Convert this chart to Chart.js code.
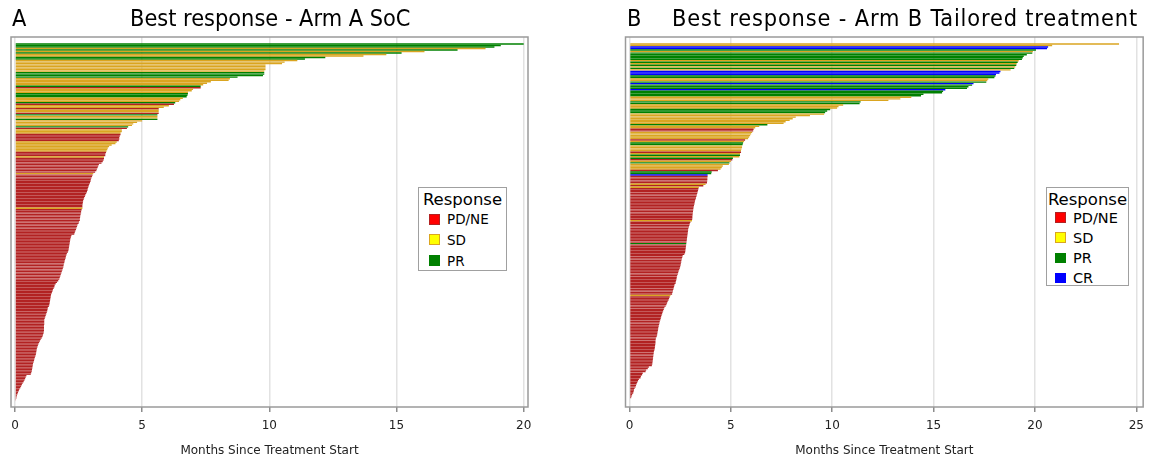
<!DOCTYPE html>
<html>
<head>
<meta charset="utf-8">
<title>Best response by arm</title>
<script src="https://cdn.jsdelivr.net/npm/chart.js@4.4.1/dist/chart.umd.min.js"></script>
<style>
  html, body { margin: 0; padding: 0; background: #fff; }
  #page { position: relative; width: 1151px; height: 463px; overflow: hidden; font-family: 'DejaVu Sans', sans-serif; }
  canvas { position: absolute; top: 0; }
  .head { position: absolute; top: 4px; font-family: 'DejaVu Sans Condensed', 'DejaVu Sans', sans-serif; font-stretch: condensed; font-size: 23.3px; line-height: 28px; color: #000; white-space: nowrap; }
  .legend { position: absolute; background: #fff; border: 1.5px solid #a0a0a0; box-sizing: border-box; }
  .legend .ttl { position: absolute; left: 0; right: 0; text-align: center; font-size: 16.5px; line-height: 20px; }
  .legend .row { position: absolute; left: 0; right: 0; height: 16px; }
  .legend .sw { position: absolute; top: 2px; box-sizing: border-box; border: 1px solid; }
  .legend .lab { position: absolute; top: 0; line-height: 16px; white-space: nowrap; }
</style>
</head>
<body>
<div id="page">
  <canvas id="armA" width="565" height="463" style="left:0;width:565px;height:463px"></canvas>
  <canvas id="armB" width="586" height="463" style="left:565px;width:586px;height:463px"></canvas>
  <div class="head" style="left:12px">A</div>
  <div class="head" style="left:130px">Best response - Arm A SoC</div>
  <div class="head" style="left:627px">B</div>
  <div class="head" style="left:672px;letter-spacing:0.85px">Best response - Arm B Tailored treatment</div>
  <div id="legA" class="legend" style="left:418px;top:187px;width:89px;height:84px"></div>
  <div id="legB" class="legend" style="left:1046px;top:187px;width:83px;height:99px"></div>
</div>
<script>
// response categories
const responseCodes = ['PD', 'SD', 'PR', 'CR'];
const responseLabels = ['PD/NE', 'SD', 'PR', 'CR'];
const barColors = ['#B22222', '#DAA520', '#008000', '#0000FF'];
const swatchFill = ['#FF0000', '#FFFF00', '#008000', '#0000FF'];

const xTicksA = [0, 5, 10, 15, 20];
const xTicksB = [0, 5, 10, 15, 20, 25];
const xTitle = 'Months Since Treatment Start';

// Arm A: months on treatment per patient, sorted longest first
const monthsA = [
  20.0, 19.1, 18.85, 18.5, 17.4, 16.1, 15.2, 14.6, 13.7, 12.2, 11.4, 11.1, 10.6, 10.5,
  9.85, 9.85, 9.85, 9.85, 9.8, 9.8, 9.8, 9.75,
  8.75, 8.45, 8.4, 7.7, 7.55, 7.4, 7.3, 7.3,
  7.0, 6.95, 6.8, 6.8, 6.78, 6.75, 6.6, 6.5, 6.45,
  6.3, 6.25, 6.05, 5.85, 5.65, 5.65, 5.65, 5.65,
  5.6, 5.6, 5.6, 5.6, 5.0,
  4.8, 4.65, 4.6, 4.45, 4.4,
  4.2, 4.2, 4.15, 4.15, 4.12, 4.1, 4.1, 4.08, 4.0,
  3.95, 3.8, 3.7, 3.65, 3.63, 3.6,
  3.58, 3.55, 3.55, 3.5, 3.5,
  3.48, 3.45, 3.4, 3.3, 3.27, 3.25, 3.22, 3.2, 3.15,
  3.08,
  3.05, 3.03, 3.0, 2.98, 2.97, 2.95,
  2.92, 2.9, 2.88, 2.86, 2.85, 2.83, 2.8,
  2.77, 2.75, 2.72, 2.7, 2.68, 2.67, 2.66, 2.65, 2.65,
  2.65,
  2.62, 2.6, 2.6, 2.58, 2.57, 2.56, 2.55, 2.55, 2.52, 2.5,
  2.46, 2.44, 2.42, 2.4, 2.37, 2.35, 2.33,
  2.22, 2.2, 2.18, 2.17, 2.16, 2.15, 2.14, 2.13, 2.12, 2.11, 2.1, 2.08,
  2.04, 2.02, 2.0, 1.99, 1.97, 1.95, 1.94, 1.92, 1.91, 1.9,
  1.88, 1.86, 1.84, 1.82, 1.8, 1.78, 1.76, 1.74, 1.7, 1.65,
  1.6, 1.56, 1.55, 1.52, 1.49, 1.47, 1.45,
  1.42, 1.41, 1.4, 1.39, 1.38, 1.37, 1.36, 1.35, 1.33,
  1.29, 1.28, 1.27, 1.25, 1.23, 1.21, 1.19, 1.17,
  1.15, 1.15, 1.15, 1.15, 1.14, 1.14, 1.14, 1.14, 1.13, 1.12, 1.1,
  1.08, 1.05, 1.01, 0.98, 0.95, 0.92, 0.9, 0.88,
  0.86, 0.85, 0.84, 0.83, 0.82, 0.8, 0.78, 0.76, 0.75, 0.73,
  0.71, 0.7, 0.69, 0.68, 0.67, 0.66, 0.64, 0.62,
  0.45, 0.42, 0.4, 0.37, 0.34,
  0.3, 0.27, 0.24, 0.21,
  0.17, 0.15, 0.12, 0.1,
  0.07, 0.06, 0.05, 0.04, 0.03
];
const responseA = [
  'PR', 'PR', 'PR', 'SD', 'PR', 'SD', 'PR', 'SD', 'SD', 'PR', 'PR', 'SD', 'SD', 'SD',
  'SD', 'SD', 'SD', 'SD', 'SD', 'PR', 'PR', 'PR',
  'PR', 'SD', 'SD', 'SD', 'SD', 'SD', 'PR', 'PD',
  'SD', 'SD', 'SD', 'PR', 'PR', 'PR', 'SD', 'SD', 'SD',
  'PR', 'PD', 'SD', 'SD', 'PD', 'SD', 'SD', 'PD',
  'PR', 'SD', 'SD', 'PR', 'SD',
  'SD', 'SD', 'SD', 'PR', 'PD',
  'SD', 'SD', 'SD', 'PD', 'PD', 'PD', 'PD', 'PD', 'SD',
  'SD', 'SD', 'SD', 'SD', 'SD', 'SD',
  'PD', 'PD', 'PD', 'SD', 'PD',
  'PD', 'PD', 'PD', 'PD', 'PD', 'PD', 'PD', 'PD', 'PD',
  'SD',
  'PD', 'PD', 'PD', 'PD', 'PD', 'PD',
  'PD', 'PD', 'PD', 'PD', 'PD', 'PD', 'PD',
  'PD', 'PD', 'PD', 'PD', 'PD', 'PD', 'PD', 'PD', 'PD',
  'SD',
  'PD', 'PD', 'PD', 'PD', 'PD', 'PD', 'PD', 'PD', 'PD', 'PD', 'PD', 'PD', 'PD', 'PD', 'PD', 'PD',
  'PD', 'PD', 'PD', 'PD', 'PD', 'PD', 'PD', 'PD', 'PD', 'PD', 'PD', 'PD', 'PD', 'PD', 'PD', 'PD',
  'PD', 'PD', 'PD', 'PD', 'PD', 'PD', 'PD', 'PD', 'PD', 'PD', 'PD', 'PD', 'PD', 'PD', 'PD', 'PD',
  'PD', 'PD', 'PD', 'PD', 'PD', 'PD', 'PD', 'PD', 'PD', 'PD', 'PD', 'PD', 'PD', 'PD', 'PD', 'PD',
  'PD', 'PD', 'PD', 'PD', 'PD', 'PD', 'PD', 'PD', 'PD', 'PD', 'PD', 'PD', 'PD', 'PD', 'PD', 'PD',
  'PD', 'PD', 'PD', 'PD', 'PD', 'PD', 'PD', 'PD', 'PD', 'PD', 'PD', 'PD', 'PD', 'PD', 'PD', 'PD',
  'PD', 'PD', 'PD', 'PD', 'PD', 'PD', 'PD', 'PD', 'PD', 'PD', 'PD', 'PD', 'PD', 'PD', 'PD', 'PD',
  'PD', 'PD', 'PD', 'PD', 'PD', 'PD', 'PD', 'PD', 'PD', 'PD', 'PD', 'PD', 'PD', 'PD', 'PD', 'PD'
];

// Arm B
const monthsB = [
  24.15, 20.85, 20.65, 20.6,
  20.05, 19.9, 19.87, 19.6, 19.45, 19.4, 19.36,
  19.2, 19.15, 19.1, 19.08, 19.03, 18.98, 18.8,
  18.3, 18.25, 18.08, 18.05, 18.0,
  17.7, 17.65, 17.6,
  16.97, 16.9, 16.72, 16.65, 15.58,
  15.47, 15.42, 14.5, 14.38,
  13.9, 13.36, 12.77,
  11.4, 11.35,
  10.54, 10.31, 10.24,
  9.9, 9.75, 9.65,
  9.6, 8.9, 8.2, 8.05, 7.9, 7.7, 7.6,
  6.8,
  6.4, 6.2,
  6.12, 6.1,
  6.05, 6.0, 5.95, 5.9, 5.85,
  5.7, 5.65,
  5.6, 5.58, 5.55,
  5.55, 5.52, 5.5, 5.5,
  5.45, 5.45, 5.42,
  5.1, 5.07, 5.0,
  4.93, 4.9, 4.6, 4.55, 4.49,
  4.36, 4.05, 4.03,
  3.85,
  3.85, 3.84, 3.84, 3.83, 3.82,
  3.75,
  3.64,
  3.42,
  3.4, 3.38, 3.36, 3.34, 3.32, 3.3, 3.28,
  3.25, 3.23, 3.21, 3.2, 3.18, 3.16, 3.15, 3.14, 3.13,
  3.12, 3.11, 3.1, 3.1, 3.09,
  3.08,
  3.0, 2.97, 2.95, 2.93, 2.9, 2.89,
  2.88, 2.87, 2.86, 2.85, 2.84, 2.83, 2.82, 2.81,
  2.8,
  2.79, 2.78, 2.77, 2.76, 2.75, 2.74, 2.7,
  2.62, 2.6, 2.58, 2.56, 2.55, 2.53, 2.52, 2.5, 2.48, 2.45,
  2.42, 2.4, 2.38, 2.35, 2.33, 2.32, 2.3, 2.28, 2.27,
  2.22, 2.2, 2.18, 2.16, 2.14, 2.12, 2.1,
  2.02,
  1.98, 1.95, 1.92, 1.88, 1.85, 1.82, 1.78,
  1.72, 1.69, 1.66, 1.63, 1.61, 1.58, 1.56, 1.54, 1.52,
  1.49, 1.48, 1.46, 1.44, 1.42, 1.41, 1.4, 1.38, 1.37, 1.36, 1.34,
  1.3, 1.29, 1.28, 1.28, 1.27, 1.26, 1.25, 1.24, 1.22,
  1.2, 1.19, 1.18, 1.17, 1.16, 1.15, 1.14, 1.13, 1.12, 1.1,
  0.95, 0.9, 0.82, 0.79,
  0.65, 0.62, 0.56, 0.54,
  0.46, 0.42, 0.38, 0.35, 0.32, 0.3,
  0.25, 0.22, 0.2, 0.18,
  0.13, 0.1, 0.08
];
const responseB = [
  'SD', 'SD', 'CR', 'CR',
  'PR', 'SD', 'PR', 'PR', 'PR', 'PR', 'PR',
  'SD', 'PR', 'SD', 'PR', 'SD', 'PR', 'SD',
  'CR', 'CR', 'CR', 'PR', 'PR',
  'SD', 'SD', 'PR',
  'CR', 'PR', 'PR', 'PR', 'CR',
  'PR', 'PR', 'PR', 'PR',
  'SD', 'SD', 'SD',
  'PR', 'PR',
  'SD', 'SD', 'SD',
  'PR', 'PR', 'PR',
  'SD', 'SD', 'SD', 'SD', 'SD', 'SD', 'SD',
  'PR',
  'SD', 'SD',
  'PD', 'PD',
  'SD', 'SD', 'SD', 'SD', 'SD',
  'PD', 'SD',
  'PR', 'PR', 'SD',
  'SD', 'SD', 'SD', 'PD',
  'SD', 'PR', 'SD',
  'PR', 'PD', 'SD',
  'PR', 'SD', 'SD', 'SD', 'SD',
  'PD', 'PR', 'PR',
  'CR',
  'PD', 'PD', 'PD', 'PD', 'PD',
  'SD',
  'PD',
  'SD',
  'PD', 'PD', 'PD', 'PD', 'PD', 'PD', 'PD',
  'PD', 'PD', 'PD', 'PD', 'PD', 'PD', 'PD', 'PD', 'PD',
  'PD', 'PD', 'PD', 'PD', 'PD',
  'SD',
  'PD', 'PD', 'PD', 'PD', 'PD', 'PD',
  'PD', 'PD', 'PD', 'PD', 'PD', 'PD', 'PD', 'PD',
  'PR',
  'PD', 'PD', 'PD', 'PD', 'PD', 'PD', 'PD',
  'PD', 'PD', 'PD', 'PD', 'PD', 'PD', 'PD', 'PD', 'PD', 'PD',
  'PD', 'PD', 'PD', 'PD', 'PD', 'PD', 'PD', 'PD', 'PD',
  'PD', 'PD', 'PD', 'PD', 'PD', 'PD', 'PD',
  'SD',
  'PD', 'PD', 'PD', 'PD', 'PD', 'PD', 'PD', 'PD', 'PD', 'PD', 'PD', 'PD', 'PD', 'PD', 'PD', 'PD',
  'PD', 'PD', 'PD', 'PD', 'PD', 'PD', 'PD', 'PD', 'PD', 'PD', 'PD', 'PD', 'PD', 'PD', 'PD', 'PD',
  'PD', 'PD', 'PD', 'PD', 'PD', 'PD', 'PD', 'PD', 'PD', 'PD', 'PD', 'PD', 'PD', 'PD', 'PD', 'PD',
  'PD', 'PD', 'PD', 'PD', 'PD', 'PD', 'PD', 'PD', 'PD', 'PD', 'PD', 'PD', 'PD', 'PD', 'PD', 'PD',
  'PD', 'PD', 'PD'
];

// outline around the plot area
const frame = {
  id: 'frame',
  afterDraw(chart) {
    const { ctx, chartArea: a } = chart;
    ctx.save();
    ctx.strokeStyle = '#9a9a9a';
    ctx.lineWidth = 1.5;
    ctx.strokeRect(a.left, a.top, a.right - a.left, a.bottom - a.top);
    ctx.restore();
  }
};

function swimmer(id, months, responses, opts) {
  const colorOf = r => barColors[responseCodes.indexOf(r)];
  return new Chart(document.getElementById(id), {
    type: 'bar',
    data: {
      datasets: [{
        data: months.map((m, i) => ({ x: m, y: i })),
        backgroundColor: responses.map(colorOf),
        borderWidth: 0,
        barPercentage: 0.94,
        categoryPercentage: 1
      }]
    },
    options: {
      indexAxis: 'y',
      responsive: false,
      animation: false,
      layout: { padding: { left: opts.left, right: opts.right, top: 37, bottom: 0 } },
      plugins: { legend: { display: false }, tooltip: { enabled: false } },
      scales: {
        x: {
          type: 'linear',
          min: opts.xMin,
          max: opts.xMax,
          afterBuildTicks: ax => { ax.ticks = opts.ticks.map(v => ({ value: v })); },
          afterFit: s => { s.height = 56; },
          border: { display: false },
          grid: { color: '#e2e2e2', lineWidth: 1.5, drawTicks: true, tickLength: 5, tickColor: '#8c8c8c' },
          ticks: { color: '#222', padding: 7, maxRotation: 0, font: { family: 'DejaVu Sans', size: 12 } },
          title: { display: true, text: xTitle, color: '#222', padding: { top: 2, bottom: 5 }, font: { family: 'DejaVu Sans', size: 12 } }
        },
        y: {
          type: 'linear', reverse: true, offset: false, grace: 0, bounds: 'data',
          min: opts.yMin, max: opts.yMax, display: false,
          grid: { offset: false }
        }
      }
    },
    plugins: [frame]
  });
}

function buildLegend(id, count, L) {
  const box = document.getElementById(id);
  const t = document.createElement('div');
  t.className = 'ttl';
  t.style.top = L.titleTop + 'px';
  t.textContent = 'Response';
  box.appendChild(t);
  for (let i = 0; i < count; i++) {
    const row = document.createElement('div');
    row.className = 'row';
    row.style.top = (L.rowTop + i * L.pitch) + 'px';
    const sw = document.createElement('div');
    sw.className = 'sw';
    sw.style.left = L.swLeft + 'px';
    sw.style.width = sw.style.height = L.sw + 'px';
    sw.style.top = (8 - L.sw / 2) + 'px';
    sw.style.background = swatchFill[i];
    sw.style.borderColor = barColors[i];
    const lab = document.createElement('div');
    lab.className = 'lab';
    lab.style.left = L.textLeft + 'px';
    lab.style.fontSize = L.font + 'px';
    lab.textContent = responseLabels[i];
    row.appendChild(sw);
    row.appendChild(lab);
    box.appendChild(row);
  }
}

swimmer('armA', monthsA, responseA, { left: 11, right: 37, xMin: -0.157, xMax: 20.17, ticks: xTicksA, yMin: -4.64, yMax: 240.8 });
swimmer('armB', monthsB, responseB, { left: 60.5, right: 7, xMin: -0.2, xMax: 25.34, ticks: xTicksB, yMin: -4.59, yMax: 238.2 });

buildLegend('legA', 3, { titleTop: 2, rowTop: 23, pitch: 20.75, swLeft: 10, sw: 11, textLeft: 28, font: 13.5 });
buildLegend('legB', 4, { titleTop: 2, rowTop: 21.5, pitch: 20.2, swLeft: 8, sw: 10.5, textLeft: 26, font: 14.5 });
</script>
</body>
</html>
